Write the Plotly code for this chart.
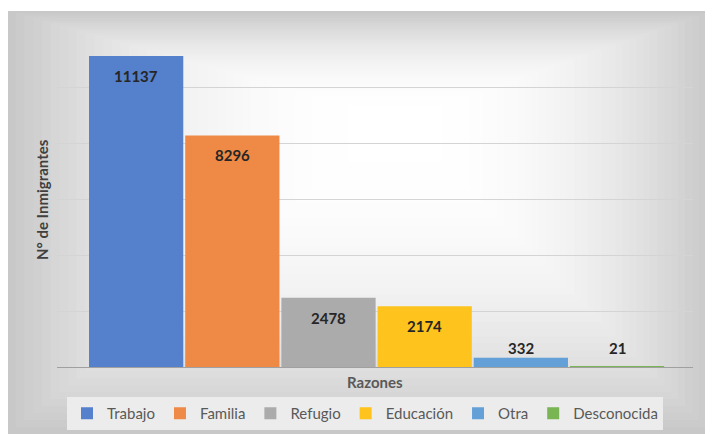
import plotly.graph_objects as go

# ---- data ----
categories = ["Trabajo", "Familia", "Refugio", "Educación", "Otra", "Desconocida"]
values = [11137, 8296, 2478, 2174, 332, 21]
colors = ["#5580cb", "#ee8a46", "#ababab", "#fec31c", "#63a0d8", "#79b552"]
y_ticks = [0, 2000, 4000, 6000, 8000, 10000, 12000]
x_title = "Razones"
y_title = "N° de Inmigrantes"

OFF = 8  # page body margin
W, H = 713 - OFF, 434 - OFF
L, R, T, B = 57 - OFF, 20, 32 - OFF, 67
PW, PH = W - L - R, H - T - B

def px2paper(x, y):
    # x, y in screenshot pixel coordinates
    return (x - OFF - L) / PW, (H - B - (y - OFF)) / PH

fig = go.Figure()
for cat, val, col in zip(categories, values, colors):
    fig.add_trace(go.Bar(x=[cat], y=[val], name=cat, marker=dict(color=col, line=dict(width=0)),
                         hoverinfo="x+y"))

# data labels
ann = []
for cat, val in zip(categories, values):
    bar_px = val / y_ticks[-1] * PH
    if bar_px > 40:
        ann.append(dict(x=cat, y=val, yshift=-20, text=f"<b>{val}</b>", showarrow=False,
                        font=dict(family="Lato", size=15, color="#262626"), yanchor="middle"))
    else:
        ann.append(dict(x=cat, y=0, yshift=19, text=f"<b>{val}</b>", showarrow=False,
                        font=dict(family="Lato", size=15, color="#262626"), yanchor="middle"))

# axis titles
ax, ay = px2paper(375, 382)
ann.append(dict(xref="paper", yref="paper", x=ax, y=ay, text=f"<b>{x_title}</b>", showarrow=False,
                font=dict(family="Lato", size=15, color="#595959"), yanchor="middle", xanchor="center"))
tx, ty = px2paper(42, 200)
ann.append(dict(xref="paper", yref="paper", x=tx, y=ty, text=f"<b>{y_title}</b>", showarrow=False,
                textangle=-90, font=dict(family="Lato", size=15, color="#404040"),
                yanchor="middle", xanchor="center"))

# background gradient (rectangular, from centre)
shapes = []
x0, y0, x1, y1 = 7, 11, 713, 434
cx, cy = 400, 120
N = 45
g0 = 200
for k in range(N):
    t = k / N
    f = 1 - (1 - t) ** 2.4
    v = int(round(g0 + (255 - g0) * f))
    col = f"rgb({v},{v},{v})"
    ax0 = x0 + (cx - x0) * t
    ax1 = x1 - (x1 - cx) * t
    ay0 = y0 + (cy - y0) * t
    ay1 = y1 - (y1 - cy) * t
    p0 = px2paper(ax0, ay1)
    p1 = px2paper(ax1, ay0)
    shapes.append(dict(type="rect", xref="paper", yref="paper", x0=p0[0], y0=p0[1], x1=p1[0], y1=p1[1],
                       fillcolor=col, line=dict(width=0), layer="below"))

lx, ly = px2paper(365, 397)
fig.update_layout(
    width=W, height=H,
    margin=dict(l=L, r=R, t=T, b=B, autoexpand=False),
    paper_bgcolor="white",
    plot_bgcolor="rgba(0,0,0,0)",
    barmode="overlay",
    bargap=0.02,
    font=dict(family="Lato", color="#595959"),
    shapes=shapes,
    annotations=ann,
    showlegend=True,
    legend=dict(orientation="h", x=lx, xanchor="center", y=ly, yanchor="top",
                bgcolor="#ececec", font=dict(family="Lato", size=15, color="#595959"),
                traceorder="normal", itemclick=False),
    xaxis=dict(type="category", categoryorder="array", categoryarray=categories,
               range=[-0.823, 5.79], showticklabels=False, ticks="", showgrid=False,
               showline=True, linecolor="#a0a0a0", linewidth=1.3, zeroline=False),
    yaxis=dict(range=[0, y_ticks[-1]], tickvals=y_ticks, showticklabels=False, ticks="",
               showgrid=True, gridcolor="#d4d4d4", gridwidth=1, zeroline=False, showline=False),
)

fig.write_html("out.html")
